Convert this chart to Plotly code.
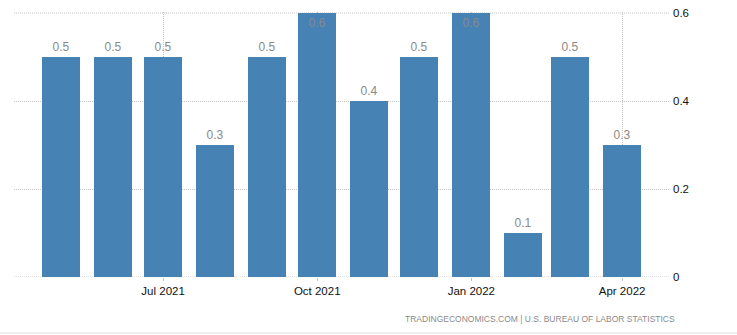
import plotly.graph_objects as go

# Monthly change, seasonally adjusted (%)
months = ["2021-05-01", "2021-06-01", "2021-07-01", "2021-08-01", "2021-09-01", "2021-10-01",
          "2021-11-01", "2021-12-01", "2022-01-01", "2022-02-01", "2022-03-01", "2022-04-01"]
values = [0.5, 0.5, 0.5, 0.3, 0.5, 0.6, 0.4, 0.5, 0.6, 0.1, 0.5, 0.3]

tick_dates = ["2021-07-01", "2021-10-01", "2022-01-01", "2022-04-01"]
tick_labels = ["Jul 2021", "Oct 2021", "Jan 2022", "Apr 2022"]

y_ticks = [0, 0.2, 0.4, 0.6]
y_labels = ["0", "0.2", "0.4", "0.6"]
y_max = 0.6

BAR = "#4682b4"
GRID = "#c4c4c4"
LABEL = "#8a8a8a"
FONT = "Liberation Sans"
DASH = "1px,1px"

positions = ["inside" if v >= y_max else "outside" for v in values]

fig = go.Figure(
    go.Bar(
        x=months,
        y=values,
        width=22.7 * 86400000,
        marker=dict(color=BAR, line=dict(width=0)),
        text=[f"{v:.1f}" for v in values],
        textposition=positions,
        insidetextanchor="end",
        textfont=dict(family=FONT, size=12, color=LABEL),
        cliponaxis=False,
        hoverinfo="x+y",
    )
)

# gridlines at the ends of the value range, which the axis itself may skip
edge_lines = [
    dict(
        type="line", xref="paper", yref="y", layer="below",
        x0=0, x1=1, y0=v, y1=v,
        line=dict(color=GRID, width=1, dash=DASH),
    )
    for v in (y_ticks[0], y_ticks[-1])
]

fig.update_layout(
    width=737,
    height=335,
    margin=dict(l=14, r=68, t=12, b=58, autoexpand=False),
    paper_bgcolor="white",
    plot_bgcolor="white",
    showlegend=False,
    bargap=0,
    xaxis=dict(
        type="date",
        range=["2021-04-03", "2022-04-29"],
        tickvals=tick_dates,
        ticktext=tick_labels,
        tickfont=dict(family=FONT, size=11.5, color="#111111"),
        showgrid=True,
        gridcolor=GRID,
        griddash=DASH,
        gridwidth=1,
        ticks="outside",
        ticklen=3,
        tickcolor=GRID,
        showline=False,
        zeroline=False,
        automargin=False,
    ),
    yaxis=dict(
        side="right",
        # a little headroom so the top gridline stays inside the plot area
        range=[0, y_max * (1 + 1 / 264)],
        tickvals=y_ticks,
        ticktext=y_labels,
        tickfont=dict(family=FONT, size=11.5, color="#111111"),
        showgrid=True,
        gridcolor=GRID,
        griddash=DASH,
        gridwidth=1,
        zeroline=False,
        showline=False,
        ticks="",
        ticklabelstandoff=3,
        automargin=False,
    ),
    annotations=[
        dict(
            text="TRADINGECONOMICS.COM | U.S. BUREAU OF LABOR STATISTICS",
            xref="paper", yref="paper",
            x=1.012, y=-0.158,
            xanchor="right", yanchor="middle",
            showarrow=False,
            font=dict(family=FONT, size=8.5, color="#8a8a8a"),
        )
    ],
    shapes=edge_lines + [
        dict(
            type="line", xref="paper", yref="paper",
            x0=-0.03, x1=1.11, y0=-0.211, y1=-0.211,
            line=dict(color="#eeeeee", width=2),
        )
    ],
)

fig.write_html("out.html")
